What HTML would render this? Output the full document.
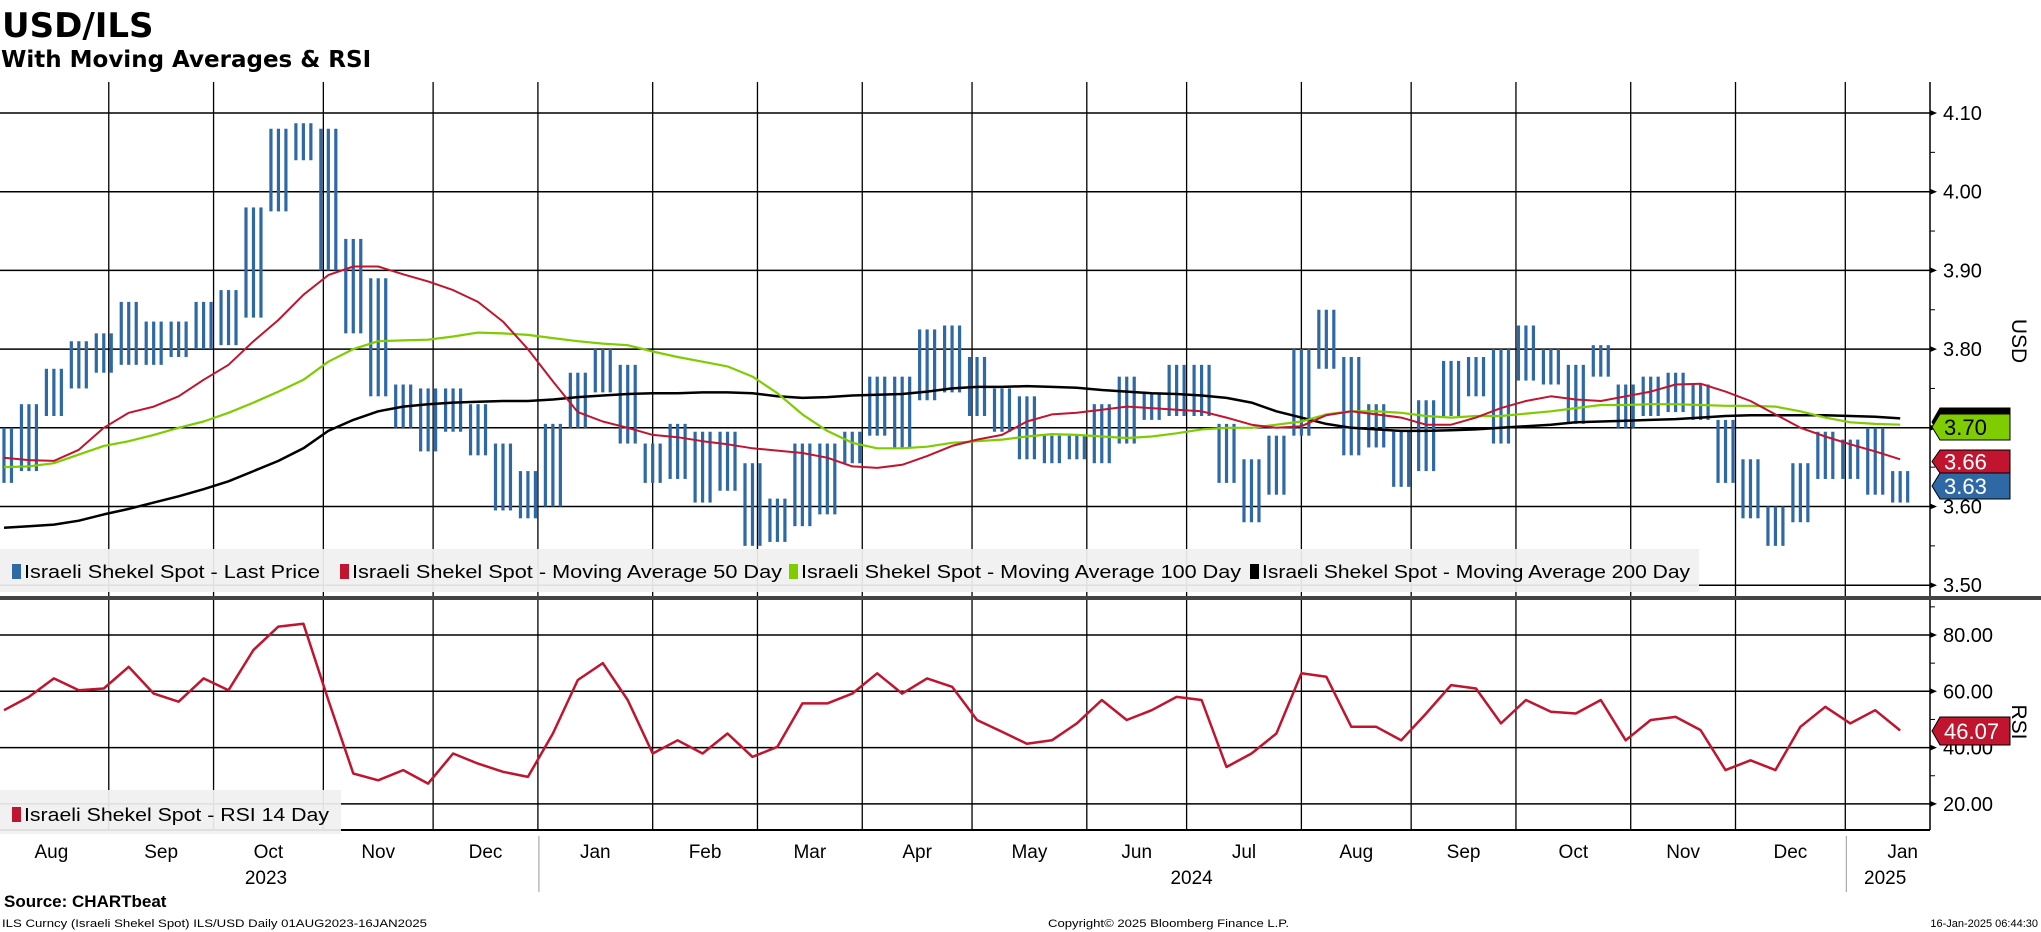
<!DOCTYPE html>
<html><head><meta charset="utf-8"><style>
html,body{margin:0;padding:0;background:#fff;}
svg{display:block;font-family:"Liberation Sans","DejaVu Sans",sans-serif;}
</style></head><body>
<svg id="chart" width="2041" height="932" viewBox="0 0 2041 932" xmlns="http://www.w3.org/2000/svg">
<text x="2" y="37" font-family="DejaVu Sans,sans-serif" font-weight="bold" font-size="34">USD/ILS</text>
<text x="1" y="67" font-family="DejaVu Sans,sans-serif" font-weight="bold" font-size="23">With Moving Averages &amp; RSI</text>
<g id="grid"></g>
<g id="marks"></g>
<g id="axes"></g>
<rect x="0" y="596" width="2041" height="4" fill="#444"/>
<g>
<rect x="0" y="549" width="1699" height="43" fill="#f0f0f0" opacity="0.93"/>
<rect x="12" y="564" width="9" height="15" fill="#2e69a6"/>
<text x="24" y="578" font-size="18" textLength="296" lengthAdjust="spacingAndGlyphs">Israeli Shekel Spot - Last Price</text>
<rect x="340" y="564" width="9" height="15" fill="#c0142f"/>
<text x="352" y="578" font-size="18" textLength="430" lengthAdjust="spacingAndGlyphs">Israeli Shekel Spot - Moving Average 50 Day</text>
<rect x="789" y="564" width="9" height="15" fill="#7fcc00"/>
<text x="801" y="578" font-size="18" textLength="440" lengthAdjust="spacingAndGlyphs">Israeli Shekel Spot - Moving Average 100 Day</text>
<rect x="1250" y="564" width="9" height="15" fill="#000"/>
<text x="1262" y="578" font-size="18" textLength="428" lengthAdjust="spacingAndGlyphs">Israeli Shekel Spot - Moving Average 200 Day</text>
</g>
<g>
<rect x="0" y="790" width="341" height="44" fill="#f0f0f0" opacity="0.93"/>
<rect x="12" y="807" width="9" height="15" fill="#c0142f"/>
<text x="24" y="821" font-size="18" textLength="305" lengthAdjust="spacingAndGlyphs">Israeli Shekel Spot - RSI 14 Day</text>
</g>
<text x="4" y="907" font-weight="bold" font-size="17">Source: CHARTbeat</text>
<text x="2" y="927" font-size="11" textLength="425" lengthAdjust="spacingAndGlyphs">ILS Curncy (Israeli Shekel Spot) ILS/USD  Daily 01AUG2023-16JAN2025</text>
<text x="1048" y="927" font-size="11" textLength="241" lengthAdjust="spacingAndGlyphs">Copyright© 2025 Bloomberg Finance L.P.</text>
<text x="2038" y="927" font-size="11" text-anchor="end">16-Jan-2025 06:44:30</text>
</svg>
<script>
// ---- data (weekly, starting week of 01-Aug-2023) ----
const priceLow = [3.63,3.645,3.715,3.75,3.77,3.78,3.78,3.79,3.80,3.805,3.84,3.975,4.04,3.90,3.82,3.74,3.70,3.67,3.695,3.665,3.595,3.585,3.60,3.70,3.745,3.68,3.63,3.635,3.605,3.62,3.55,3.555,3.575,3.59,3.655,3.69,3.675,3.735,3.745,3.715,3.695,3.66,3.655,3.66,3.655,3.68,3.71,3.715,3.715,3.63,3.58,3.615,3.69,3.775,3.665,3.675,3.625,3.645,3.715,3.74,3.68,3.76,3.755,3.705,3.765,3.70,3.715,3.72,3.71,3.63,3.585,3.55,3.58,3.635,3.635,3.615,3.605];
const priceHigh = [3.70,3.73,3.775,3.81,3.82,3.86,3.835,3.835,3.86,3.875,3.98,4.08,4.087,4.08,3.94,3.89,3.755,3.75,3.75,3.73,3.68,3.645,3.705,3.77,3.80,3.78,3.68,3.705,3.695,3.695,3.655,3.61,3.68,3.68,3.695,3.765,3.765,3.825,3.83,3.79,3.75,3.74,3.69,3.69,3.73,3.765,3.745,3.78,3.78,3.705,3.66,3.69,3.80,3.85,3.79,3.73,3.695,3.735,3.785,3.79,3.80,3.83,3.80,3.78,3.805,3.755,3.765,3.77,3.755,3.71,3.66,3.60,3.655,3.695,3.685,3.70,3.645];
const ma50 = [3.662,3.659,3.658,3.672,3.70,3.719,3.727,3.74,3.761,3.78,3.81,3.837,3.869,3.894,3.905,3.905,3.895,3.886,3.875,3.86,3.835,3.80,3.759,3.72,3.708,3.70,3.691,3.688,3.683,3.679,3.674,3.671,3.668,3.662,3.651,3.649,3.653,3.664,3.677,3.685,3.691,3.708,3.717,3.719,3.723,3.727,3.725,3.723,3.721,3.713,3.704,3.70,3.702,3.716,3.721,3.717,3.713,3.704,3.704,3.713,3.725,3.734,3.74,3.736,3.734,3.74,3.746,3.755,3.756,3.746,3.734,3.717,3.70,3.689,3.679,3.67,3.66];
const ma100 = [3.65,3.651,3.655,3.666,3.677,3.683,3.691,3.70,3.708,3.719,3.732,3.746,3.761,3.784,3.80,3.81,3.811,3.812,3.816,3.821,3.820,3.818,3.814,3.81,3.807,3.805,3.797,3.790,3.784,3.778,3.765,3.744,3.717,3.696,3.681,3.674,3.674,3.676,3.681,3.683,3.685,3.689,3.692,3.691,3.689,3.687,3.689,3.693,3.698,3.70,3.70,3.704,3.708,3.717,3.721,3.721,3.719,3.715,3.713,3.715,3.715,3.718,3.721,3.725,3.729,3.729,3.730,3.730,3.729,3.728,3.728,3.727,3.721,3.713,3.707,3.705,3.704];
const ma200 = [3.573,3.575,3.577,3.582,3.59,3.597,3.605,3.613,3.622,3.632,3.645,3.658,3.674,3.696,3.71,3.721,3.727,3.73,3.732,3.733,3.734,3.734,3.736,3.739,3.741,3.743,3.744,3.744,3.745,3.745,3.744,3.74,3.738,3.739,3.741,3.742,3.743,3.746,3.75,3.752,3.752,3.753,3.752,3.751,3.748,3.746,3.744,3.743,3.741,3.738,3.732,3.721,3.713,3.705,3.70,3.698,3.696,3.696,3.697,3.698,3.70,3.702,3.704,3.707,3.708,3.709,3.71,3.711,3.713,3.715,3.716,3.716,3.716,3.716,3.715,3.714,3.712];
const rsi = [53.3,58,64.6,60.4,61,68.7,59.2,56.3,64.6,60.4,74.7,83,84,56.9,30.8,28.4,32,27.2,37.9,34.3,31.4,29.6,45,64,70,56.9,37.9,42.6,37.9,45,36.7,40.3,55.7,55.7,59.2,66.4,59.2,64.6,61.6,49.8,45.6,41.4,42.6,48.6,56.9,49.8,53.3,58,56.9,33.1,37.9,45,66.4,65.2,47.4,47.4,42.6,52.1,62.2,61,48.6,56.9,52.7,52.1,56.9,42.6,49.8,50.9,46.2,32,35.5,32,47.4,54.5,48.6,53.3,46.07];
const priceTicks = [3.50,3.60,3.70,3.80,3.90,4.00,4.10];
const rsiTicks = [20,40,60,80];
const monthLabels = ["Aug","Sep","Oct","Nov","Dec","Jan","Feb","Mar","Apr","May","Jun","Jul","Aug","Sep","Oct","Nov","Dec","Jan"];
const yearLabels = ["2023","2024","2025"];
const lastValues = {ma200:"3.70", ma100:"3.70", ma50:"3.66", price:"3.63", rsi:"46.07"};

const NS="http://www.w3.org/2000/svg";
function mk(tag, attrs, parent){const e=document.createElementNS(NS,tag);for(const k in attrs)e.setAttribute(k,attrs[k]);parent.appendChild(e);return e;}
const AX=1930;
const xDay = d => -6 + d*4.99;
const yP = p => 113 + (4.10-p)*787;
const yR = v => 635 + (80-v)*2.815;
const start = new Date(2023,7,1);
function wdIndex(dt){let n=0;const c=new Date(start);while(c<dt){const w=c.getDay();if(w!==0&&w!==6)n++;c.setDate(c.getDate()+1);}return n;}
const grid=document.getElementById('grid'), marks=document.getElementById('marks'), axes=document.getElementById('axes');

const mStarts=[];
for(let i=1;i<=17;i++){mStarts.push(xDay(wdIndex(new Date(2023,7+i,1))));}
mStarts.forEach((x,i)=>{
  const l=mk('line',{x1:x,y1:82,x2:x,y2:830,stroke:'#000','stroke-width':1.3},grid);
  
  
});
priceTicks.forEach(p=>{
  const l=mk('line',{x1:0,y1:yP(p),x2:AX,y2:yP(p),stroke:'#000','stroke-width':1.5},grid);
  
  
  const a=mk('path',{d:`M${AX} ${yP(p)-3}L${AX+7} ${yP(p)}L${AX} ${yP(p)+3}Z`,fill:'#000'},axes);
  
  
  const t=mk('text',{x:AX+13,y:yP(p)+7,'font-size':20},axes);t.textContent=p.toFixed(2);
  
  
  if(p<4.09){
  const m=mk('line',{x1:AX,y1:yP(p+0.05),x2:AX+5,y2:yP(p+0.05),stroke:'#000','stroke-width':1},axes);
  
  }
});
rsiTicks.forEach(v=>{
  const l=mk('line',{x1:0,y1:yR(v),x2:AX,y2:yR(v),stroke:'#000','stroke-width':1.5},grid);
  
  
  const a=mk('path',{d:`M${AX} ${yR(v)-3}L${AX+7} ${yR(v)}L${AX} ${yR(v)+3}Z`,fill:'#000'},axes);
  
  
  const t=mk('text',{x:AX+13,y:yR(v)+7,'font-size':20},axes);t.textContent=v.toFixed(2);
  
  
  const m=mk('line',{x1:AX,y1:yR(v+10),x2:AX+5,y2:yR(v+10),stroke:'#000','stroke-width':1},axes);
  
  
});
let e=mk('line',{x1:AX,y1:82,x2:AX,y2:830,stroke:'#000','stroke-width':1.5},axes);


e=mk('line',{x1:0,y1:830,x2:AX,y2:830,stroke:'#000','stroke-width':2},axes);


const bounds=[xDay(0)].concat(mStarts).concat([1960]);
monthLabels.forEach((m,i)=>{
  const t=mk('text',{x:(bounds[i]+bounds[i+1])/2,y:858,'font-size':19,'text-anchor':'middle'},axes);t.textContent=m;
  
  
});
[mStarts[4],mStarts[16]].forEach(x=>{const l=mk('line',{x1:x+1,y1:836,x2:x+1,y2:892,stroke:'#999','stroke-width':1},axes);
  
  });
const yb=[xDay(0),mStarts[4],mStarts[16],1925];
yearLabels.forEach((y,i)=>{const t=mk('text',{x:(yb[i]+yb[i+1])/2,y:884,'font-size':19,'text-anchor':'middle'},axes);t.textContent=y;
  
  });
e=mk('text',{x:2012,y:341,'font-size':21,'text-anchor':'middle',transform:'rotate(90 2012 341)'},axes);e.textContent='USD';


e=mk('text',{x:2012,y:722,'font-size':21,'text-anchor':'middle',transform:'rotate(90 2012 722)'},axes);e.textContent='RSI';



// price bars (3 thin bars per weekly range)
priceLow.forEach((lo,k)=>{
  [0.5,2,3.5].forEach(j=>{
    const x=xDay(5*k+j);
    const b=mk('rect',{x:x-1.6,y:yP(priceHigh[k]),width:3.2,height:Math.max(2,yP(lo)-yP(priceHigh[k])),fill:'#2e69a6'},marks);
    
    
  });
});
function line(arr,yf,color,w,name){
  const pts=arr.map((v,k)=>`${xDay(5*k+2).toFixed(1)},${yf(v).toFixed(1)}`).join(' ');
  const p=mk('polyline',{points:pts,fill:'none',stroke:color,'stroke-width':w,'stroke-linejoin':'round'},marks);
  
  
}
line(ma200,yP,'#000',2.5,'ma200-line');
line(ma100,yP,'#7fcc00',2.2,'ma100-line');
line(ma50,yP,'#c0142f',2,'ma50-line');
line(rsi,yR,'#c0142f',2.5,'rsi-line');

function tag(y,h,fill,txt,tc,name){
  const g=mk('g',{},axes);
  
  
  mk('path',{d:`M${AX+2} ${y+h/2}L${AX+10} ${y}L2010 ${y}L2010 ${y+h}L${AX+10} ${y+h}Z`,fill:fill,stroke:'#000','stroke-width':1},g);
  if(txt){const t=mk('text',{x:AX+14,y:y+h/2+8,'font-size':22,fill:tc},g);t.textContent=txt;}
}
tag(408,28,'#000','', '#000','tag-ma200');
tag(414,26,'#7fcc00',lastValues.ma100,'#000','tag-ma100');
tag(450,23,'#c0142f',lastValues.ma50,'#fff','tag-ma50');
tag(473,26,'#2e69a6',lastValues.price,'#fff','tag-last-price');
tag(717,28,'#c0142f',lastValues.rsi,'#fff','tag-rsi');
</script>
</body></html>
